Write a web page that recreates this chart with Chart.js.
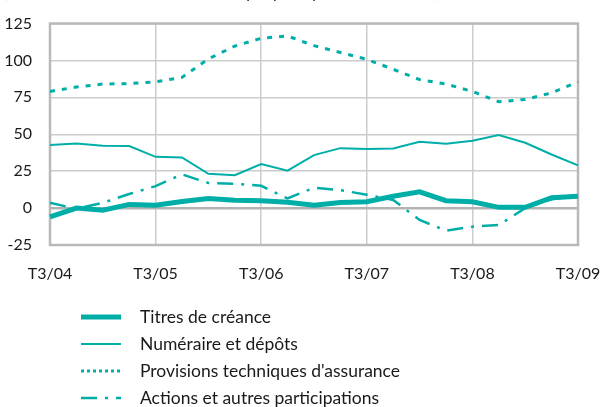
<!DOCTYPE html>
<html>
<head>
<meta charset="utf-8">
<script src="https://cdn.jsdelivr.net/npm/chart.js@4"></script>
<style>
  html, body { margin: 0; padding: 0; background: #fff; }
  #wrap { width: 602px; height: 407px; }
</style>
</head>
<body>
<div id="wrap"><canvas id="flux" width="602" height="407"></canvas></div>
<script>
// trimestres T3/04 -> T3/09
const trimestres = [
  "T3/04", "T4/04", "T1/05", "T2/05", "T3/05", "T4/05", "T1/06", "T2/06",
  "T3/06", "T4/06", "T1/07", "T2/07", "T3/07", "T4/07", "T1/08", "T2/08",
  "T3/08", "T4/08", "T1/09", "T2/09", "T3/09"
];

const titresCreance = [-6, 0, -1.5, 2.5, 2, 4.5, 6.5, 5.3, 5, 4, 2, 3.8, 4.3, 8, 11, 5, 4.3, 0.5, 0.5, 7, 8];
const numeraireDepots = [42.7, 43.8, 42.2, 42, 34.7, 34.3, 23.2, 22.3, 29.8, 25.3, 35.9, 40.6, 40, 40.4, 44.9, 43.5, 45.6, 49.4, 44.2, 36.3, 28.9];
const provisionsAssurance = [79, 82, 84, 84.3, 85.5, 88.5, 101, 109.7, 115, 116.5, 110, 105.4, 100.7, 94, 87, 84, 79, 72, 73.6, 78, 85.5];
const actionsParticipations = [3.6, -0.5, 3.6, 9.5, 14.9, 22.8, 17, 16.5, 15.1, 6.5, 13.8, 12.2, 9, 5.5, -8, -15.3, -12.6, -11.5, 0, 6, 8];

const yTicks = [-25, 0, 25, 50, 75, 100, 125];

const teal = "#00aea8";
const police = "Lato, 'DejaVu Sans', sans-serif";

const series = [
  { label: "Titres de créance", data: titresCreance, borderWidth: 5, borderDash: [] },
  { label: "Numéraire et dépôts", data: numeraireDepots, borderWidth: 2, borderDash: [] },
  { label: "Provisions techniques d'assurance", data: provisionsAssurance, borderWidth: 3, borderDash: [5, 7] },
  { label: "Actions et autres participations", data: actionsParticipations, borderWidth: 2.5, borderDash: [16, 8, 3, 8] },
];

// cadre gris autour de la zone de tracé
const cadre = {
  id: "cadre",
  beforeDatasetsDraw(chart) {
    const a = chart.chartArea;
    const c = chart.ctx;
    c.save();
    c.strokeStyle = "#b9b9b9";
    c.lineWidth = 2.5;
    c.strokeRect(a.left, a.top, a.right - a.left, a.bottom - a.top);
    c.restore();
  }
};

// légende sous le graphique + titre coupé en haut
const legende = {
  id: "legende",
  afterDraw(chart) {
    const c = chart.ctx;
    c.save();
    c.font = "16px " + police;
    c.fillStyle = "#1a1a1a";
    c.textBaseline = "alphabetic";
    c.fillText("(en milliards d'euros, flux annuels ; par principaux instruments)", 4, -2);
    c.font = "17.5px " + police;
    c.textBaseline = "middle";
    chart.data.datasets.forEach((ds, i) => {
      const y = 317 + i * 27;
      c.strokeStyle = ds.borderColor;
      c.lineWidth = ds.borderWidth;
      c.setLineDash(i === 2 ? [3, 3] : ds.borderDash);
      c.beginPath();
      c.moveTo(81, y);
      c.lineTo(121, y);
      c.stroke();
      c.setLineDash([]);
      c.fillText(ds.label, 140, y);
    });
    c.restore();
  }
};

new Chart("flux", {
  type: "line",
  data: {
    labels: trimestres,
    datasets: series.map((s) => ({
      label: s.label,
      data: s.data,
      borderColor: teal,
      backgroundColor: teal,
      borderWidth: s.borderWidth,
      borderDash: s.borderDash,
      pointRadius: 0,
      tension: 0,
      fill: false,
    })),
  },
  options: {
    responsive: false,
    animation: false,
    layout: { padding: { left: 0, right: 24, top: 23.5, bottom: 0 } },
    plugins: {
      legend: { display: false },
      tooltip: { enabled: false },
    },
    scales: {
      x: {
        offset: false,
        afterFit: (s) => { s.height = 162; s.paddingLeft = 0; s.paddingRight = 0; },
        border: { display: false },
        grid: {
          drawTicks: false,
          color: (ctx) => (ctx.index % 4 === 0 ? "#cccccc" : "rgba(0,0,0,0)"),
          lineWidth: 1.5,
        },
        ticks: {
          autoSkip: false,
          maxRotation: 0,
          padding: 19,
          color: "#1a1a1a",
          font: { family: police, size: 16 },
          callback: (v, i) => (i % 4 === 0 ? trimestres[i] : ""),
        },
      },
      y: {
        min: -25,
        max: 125,
        afterFit: (s) => { s.width = 50; s.paddingTop = 0; s.paddingBottom = 0; },
        afterBuildTicks: (s) => { s.ticks = yTicks.map((v) => ({ value: v })); },
        border: { display: false },
        grid: {
          drawTicks: false,
          color: (ctx) => (ctx.tick && ctx.tick.value === 0 ? "#b3b3b3" : "#cccccc"),
          lineWidth: (ctx) => (ctx.tick && ctx.tick.value === 0 ? 2.5 : 1.5),
        },
        ticks: {
          padding: 18,
          color: "#1a1a1a",
          font: { family: police, size: 16 },
        },
      },
    },
  },
  plugins: [cadre, legende],
});
</script>
</body>
</html>
